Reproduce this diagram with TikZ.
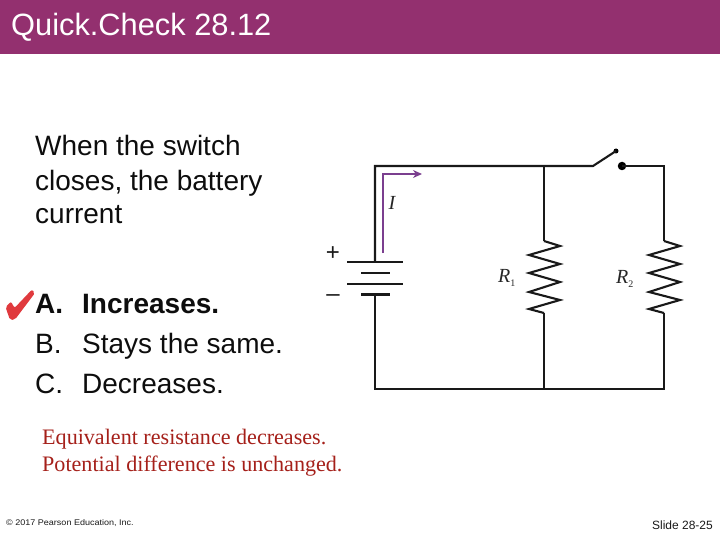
\documentclass[tikz,border=0pt]{standalone}
\usepackage{fontspec}
\setmainfont{Liberation Sans}
\newfontfamily\serifface{Liberation Serif}
\usetikzlibrary{arrows.meta}
\usetikzlibrary{positioning}
\usetikzlibrary{calc}
\definecolor{barpurple}{HTML}{93306F}
\definecolor{arrowpurple}{HTML}{7B3F8F}
\definecolor{notered}{HTML}{A5201A}
\definecolor{tickred}{HTML}{E03A3E}
\tikzstyle{wire}=[draw=black!90,line width=2.1pt,line join=miter]
\tikzstyle{plate}=[wire,line width=2.1pt]
\tikzstyle{body}=[inner sep=0pt,anchor=base west,font=\fontsize{28}{33}\selectfont,text=black!95]
\tikzstyle{note}=[inner sep=0pt,anchor=base west,font=\serifface\fontsize{22.1}{27}\selectfont,text=notered]
\tikzstyle{sym}=[inner sep=0pt,font=\serifface\itshape\fontsize{20}{20}\selectfont,text=black!85]
\tikzstyle{contact}=[fill=black,circle,inner sep=0pt]
\begin{document}
\begin{tikzpicture}[x=1pt,y=-1pt]
\useasboundingbox (0,0) rectangle (720,540);
\fill[barpurple] (0,0) rectangle (720,54);
\node [inner sep=0pt,anchor=base west,font=\fontsize{30.8}{33}\selectfont,text=white] (title) at (11,36) {Quick.Check 28.12};

% question and answers
\node [body] (q1) at (35,156) {When the switch};
\node [body] (q2) at (35,191) {closes, the battery};
\node [body] (q3) at (35,223) {current};
\node [body,font=\bfseries\fontsize{28}{33}\selectfont] (a) at (35,313) {A.};
\node [body,font=\bfseries\fontsize{28}{33}\selectfont] (aa) at (82,313) {Increases.};
\node [body] (b) at (35,353) {B.};
\node [body] (bb) at (82,353) {Stays the same.};
\node [body] (c) at (35,393) {C.};
\node [body] (cc) at (82,393) {Decreases.};
\fill[tickred,rounded corners=2pt] (32,289.5) -- (35,293) -- (15,319.5) -- (10,320) -- (5.5,307) -- (11,301.5) -- (14.5,308) -- cycle;

\node [note] (n1) at (42,444) {Equivalent resistance decreases.};
\node [note] (n2) at (42,471) {Potential difference is unchanged.};

\node [inner sep=0pt,anchor=base west,font=\fontsize{8.2}{10}\selectfont,text=black!90,xscale=1.1] (copy) at (6,525) {© 2017 Pearson Education, Inc.};
\node [inner sep=0pt,anchor=base east,font=\fontsize{12}{14}\selectfont,text=black!90] (slide) at (713,529) {Slide 28-25};

% circuit
\coordinate (TL) at (375,166);
\coordinate (TM) at (544,166);
\coordinate (SW) at (593,166);
\coordinate (TR) at (664,166);
\coordinate (BL) at (375,389);
\coordinate (BM) at (544,389);
\coordinate (BR) at (664,389);
\node [contact,minimum size=5pt] (tip) at (616,151) {};
\node [contact,minimum size=8.5pt] (dot) at (622,166) {};
\coordinate (P1) at (375,262);
\coordinate (P4) at (375,294);
\coordinate (R1a) at (544,241);
\coordinate (R2a) at (664,241);
\coordinate (R1b) at (544,313);
\coordinate (R2b) at (664,313);

\draw[wire] (P1) -- (TL) -- (SW) -- (tip.center);
\draw[wire] (dot.center) -- (TR) -- (R2a);
\draw[wire] (TM) -- (R1a);
\draw[wire] (P4) -- (BL) -- (BR) -- (R2b);
\draw[wire] (BM) -- (R1b);

\foreach \r in {R1a,R2a} {
\draw[wire] (\r) -- ++(16,5) -- ++(-31,9) -- ++(31,9) -- ++(-31,9) -- ++(31,9) -- ++(-31,10) -- ++(31,8) -- ++(-31,9) -- ++(15,4);
}

%battery plates
\draw[plate] ([xshift=-28]P1) -- ([xshift=28]P1);
\draw[plate] (361,273) -- (390,273);
\draw[plate] (347,284) -- (403,284);
\draw[plate] (361,294.5) -- (390,294.5);

\draw[arrowpurple,line width=1.7pt,-{Stealth[length=9pt,width=8pt]}] (383,253) -- (383,174) -- (422,174);

\node [inner sep=0pt,font=\fontsize{24}{24}\selectfont,text=black!90] (plus) at (333,254) {+};
\node [inner sep=0pt,font=\fontsize{24}{24}\selectfont,text=black!90] (minus) at (333,298) {–};
\node [sym] (I) at (392,203) {I};
\node [sym] (R1) at (507,278) {R\textsubscript{\upshape\fontsize{10}{10}\selectfont 1}};
\node [sym] (R2) at (625,279) {R\textsubscript{\upshape\fontsize{10}{10}\selectfont 2}};
\end{tikzpicture}
\end{document}
